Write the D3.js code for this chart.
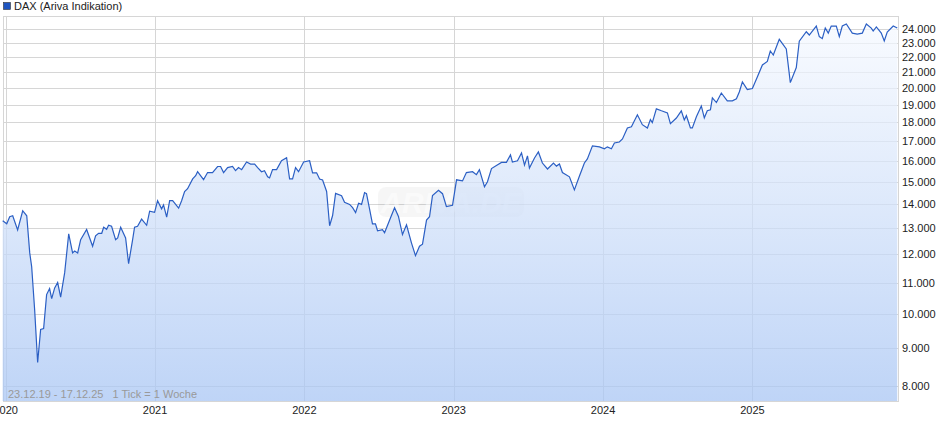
<!DOCTYPE html>
<html><head><meta charset="utf-8">
<script src="https://cdn.jsdelivr.net/npm/d3@7"></script>
<style>body{margin:0;background:#fff}svg{display:block;font-family:"Liberation Sans",Arial,sans-serif}</style>
</head><body>
<svg id="chart" width="940" height="435"></svg>
<script>
// time in years since 1.1.2020, closing values
const times = [-0.020,0.007,0.027,0.047,0.080,0.114,0.141,0.161,0.174,0.194,0.214,0.234,0.254,0.274,0.294,0.308,0.328,0.348,0.368,0.395,0.422,0.448,0.462,0.482,0.502,0.542,0.582,0.602,0.622,0.643,0.656,0.676,0.689,0.709,0.736,0.750,0.770,0.803,0.823,0.850,0.863,0.883,0.910,0.944,0.964,0.997,
  1.017,1.044,1.057,1.078,1.098,1.118,1.158,1.178,1.198,1.218,1.252,1.272,1.285,1.325,1.352,1.385,1.419,1.439,1.459,1.486,1.519,1.539,1.559,1.580,1.613,1.640,1.667,1.687,1.713,1.733,1.754,1.767,1.787,1.814,1.847,1.881,1.901,1.921,1.941,1.961,1.995,
  2.035,2.055,2.082,2.102,2.122,2.149,2.169,2.189,2.209,2.249,2.269,2.303,2.323,2.343,2.363,2.383,2.403,2.416,2.436,2.456,2.476,2.490,2.523,2.537,2.577,2.604,2.630,2.657,2.684,2.717,2.744,2.771,2.791,2.818,2.838,2.858,2.898,2.925,2.951,2.992,
  3.019,3.059,3.085,3.126,3.152,3.172,3.206,3.226,3.253,3.286,3.320,3.353,3.380,3.393,3.427,3.454,3.474,3.494,3.507,3.541,3.567,3.594,3.628,3.668,3.688,3.708,3.728,3.775,3.808,3.842,3.875,3.895,3.929,3.976,
  4.009,4.029,4.056,4.076,4.109,4.130,4.163,4.190,4.230,4.263,4.297,4.317,4.330,4.357,4.391,4.431,4.451,4.491,4.524,4.544,4.558,4.585,4.598,4.625,4.658,4.678,4.698,4.719,4.732,4.759,4.792,4.832,4.866,4.893,4.913,4.933,4.966,
  5.000,5.033,5.067,5.100,5.120,5.140,5.180,5.227,5.254,5.294,5.314,5.361,5.381,5.428,5.448,5.468,5.488,5.508,5.528,5.562,5.582,5.602,5.629,5.669,5.702,5.736,5.763,5.796,5.809,5.830,5.863,5.883,5.903,5.943,5.970];
const values = [13300,13180,13470,13510,12930,13720,13510,12050,11550,10110,8600,9520,9550,10600,10800,10470,10820,11000,10520,11340,12780,12050,12120,12050,12550,12950,12300,12700,12800,12800,13040,12960,13120,13080,12550,12620,13040,12620,11660,12550,13040,13080,13370,13120,13700,13650,
  14150,13800,13970,13450,14150,14150,13830,14150,14550,14680,15130,15280,15470,15100,15430,15430,15720,15720,15430,15670,15720,15520,15670,15570,15940,15840,15840,15670,15470,15520,15230,15180,15570,15570,16000,16150,15130,15130,15670,15470,15940,
  16000,15420,15420,15130,15080,14560,13100,13520,14470,14370,14080,13990,13850,13640,14040,13990,14510,14460,13810,13180,13180,12900,12940,12820,13430,13850,13480,12750,13140,12430,11950,12300,12380,13330,13470,14380,14610,14460,13900,13950,
  15090,15040,15430,15470,15330,15570,14770,15000,15620,15770,15920,15920,16290,15940,16000,16390,15790,16240,15650,16140,16440,15890,15600,15890,15740,15840,15430,15230,14630,15270,15890,16090,16750,16700,
  16600,16700,16600,16900,16950,17110,17700,17760,18430,17880,17700,18160,17990,18770,18660,18540,17940,18250,18660,18140,18380,17700,17700,18320,18940,18260,18660,18720,19420,19140,19710,19240,19240,19360,19790,20400,19920,
  19980,20700,21490,21720,22430,22150,23250,22570,20350,21320,23120,23800,23560,24220,23450,23300,24070,23700,24220,24220,23450,24220,24370,23700,23630,23700,24370,24070,23850,24150,23700,23130,23780,24220,24070];
const yTicks = [8000,9000,10000,11000,12000,13000,14000,15000,16000,17000,18000,19000,20000,21000,22000,23000,24000];
const xTicks = [0,1,2,3,4,5];
const xTickLabels = ["2020","2021","2022","2023","2024","2025"];
const seriesName = "DAX (Ariva Indikation)";
const footnote = "23.12.19 - 17.12.25   1 Tick = 1 Woche";

const svg = d3.select('#chart');
const pLeft = 3, pRight = 898, pTop = 16, pBottom = 401;
const n = Math.min(times.length, values.length);
const data = times.slice(0, n).map((t, i) => ({t: t, v: values[i]}));

const x = d3.scaleLinear().domain([-0.018, 5.975]).range([pLeft, pRight]);
const y = d3.scaleLog().domain([7640, 24980]).range([pBottom, pTop]);

// gradient for the area
const grad = svg.append('defs').append('linearGradient')
    .attr('id', 'fillGrad').attr('x1', 0).attr('x2', 0)
    .attr('gradientUnits', 'userSpaceOnUse')
    .attr('y1', pTop).attr('y2', pBottom);
grad.append('stop').attr('offset', '0%').attr('stop-color', '#f7faff').attr('stop-opacity', 0.7);
grad.append('stop').attr('offset', '100%').attr('stop-color', '#a9c6f4').attr('stop-opacity', 0.75);

// grid
svg.append('g').selectAll('line').data(yTicks).enter().append('line')
    .attr('x1', pLeft).attr('x2', pRight)
    .attr('y1', d => Math.round(y(d)) + 0.5).attr('y2', d => Math.round(y(d)) + 0.5)
    .attr('stroke', '#d6d6d6');
svg.append('g').selectAll('line').data(xTicks).enter().append('line')
    .attr('x1', d => Math.round(x(d)) + 0.5).attr('x2', d => Math.round(x(d)) + 0.5)
    .attr('y1', pTop).attr('y2', pBottom)
    .attr('stroke', '#d6d6d6');
svg.append('rect').attr('x', pLeft + 0.5).attr('y', pTop + 0.5)
    .attr('width', pRight - pLeft).attr('height', pBottom - pTop)
    .attr('fill', 'none').attr('stroke', '#d6d6d6');

// watermark
svg.append('rect').attr('x', 378).attr('y', 187).attr('width', 146).attr('height', 30).attr('rx', 8)
    .attr('fill', '#000').attr('opacity', 0.035);
svg.append('text').attr('x', 451).attr('y', 213).attr('text-anchor', 'middle')
    .style('font-size', '30px').style('font-weight', 'bold').style('font-style', 'italic')
    .attr('fill', '#fff').attr('opacity', 0.5).text('ARIVA.DE');

// area + line
svg.append('path').datum(data)
    .attr('d', d3.area().x(d => x(d.t)).y0(pBottom).y1(d => y(d.v)))
    .attr('fill', 'url(#fillGrad)');
svg.append('path').datum(data)
    .attr('d', d3.line().x(d => x(d.t)).y(d => y(d.v)))
    .attr('fill', 'none').attr('stroke', '#2b5fc4').attr('stroke-width', 1.2);

// axis labels
svg.append('g').selectAll('text').data(yTicks).enter().append('text')
    .attr('x', pRight + 4).attr('y', d => y(d) + 4)
    .style('font-size', '11px').attr('fill', '#222')
    .text(d => d3.format(',')(d).replace(/,/g, '.'));
svg.append('g').selectAll('text').data(xTicks).enter().append('text')
    .attr('x', d => x(d)).attr('y', 414).attr('text-anchor', 'middle')
    .style('font-size', '11px').attr('fill', '#222')
    .text((d, i) => xTickLabels[i]);

// legend + footnote
svg.append('rect').attr('x', 3.5).attr('y', 2.5).attr('width', 7).attr('height', 7)
    .attr('fill', '#1f55c0').attr('stroke', '#333').attr('stroke-width', 0.6);
svg.append('text').attr('x', 14).attr('y', 10).style('font-size', '11px').attr('fill', '#222').text(seriesName);
svg.append('text').attr('x', 8).attr('y', 398).style('font-size', '11px').style('white-space', 'pre')
    .attr('fill', '#999').text(footnote);
</script>
</body></html>
